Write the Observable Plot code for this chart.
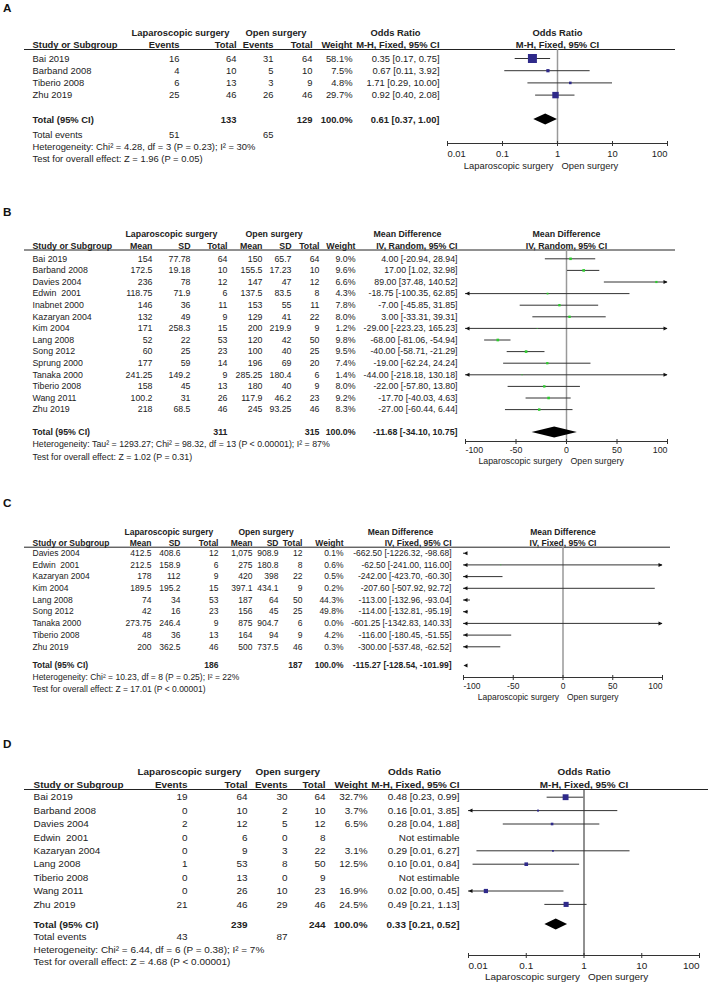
<!DOCTYPE html>
<html><head><meta charset="utf-8">
<script src="https://cdn.jsdelivr.net/npm/d3@7"></script>
<script src="https://cdn.jsdelivr.net/npm/@observablehq/plot@0.6"></script>
<style>
body{margin:0;background:#fff;}
#page{position:relative;width:709px;height:983px;overflow:hidden;font-family:"Liberation Sans",Arial,sans-serif;background:#fff;}
.lbl{position:absolute;left:3px;font-weight:bold;font-size:11.7px;line-height:12px;color:#111;}
svg text{white-space:pre;}
</style></head><body><div id="page"></div>
<script>
// ===== Panel A =====
const studiesA = ["Bai 2019","Barband 2008","Tiberio 2008","Zhu 2019"];
const lapEventsA = [16,4,6,25];
const lapTotalA = [64,10,13,46];
const openEventsA = [31,5,3,26];
const openTotalA = [64,10,9,46];
const weightA = [58.1,7.5,4.8,29.7];
const orA = [0.35,0.67,1.71,0.92];
const orLowA = [0.17,0.11,0.29,0.40];
const orHighA = [0.75,3.92,10.00,2.08];
const pooledA = [0.61,0.37,1.00];
const totalsA = [133,129];
const totalEventsA = [51,65];
const hetA = "Heterogeneity: Chi² = 4.28, df = 3 (P = 0.23); I² = 30%";
const testA = "Test for overall effect: Z = 1.96 (P = 0.05)";

// ===== Panel B =====
const studiesB = ["Bai 2019","Barband 2008","Davies 2004","Edwin  2001","Inabnet 2000","Kazaryan 2004","Kim 2004","Lang 2008","Song 2012","Sprung 2000","Tanaka 2000","Tiberio 2008","Wang 2011","Zhu 2019"];
const lapMeanB = [154,172.5,236,118.75,146,132,171,52,60,177,241.25,158,100.2,218];
const lapSdB = [77.78,19.18,78,71.9,36,49,258.3,22,25,59,149.2,45,31,68.5];
const lapNB = [64,10,12,6,11,9,15,53,23,14,9,13,26,46];
const openMeanB = [150,155.5,147,137.5,153,129,200,120,100,196,285.25,180,117.9,245];
const openSdB = [65.7,17.23,47,83.5,55,41,219.9,42,40,69,180.4,40,46.2,93.25];
const openNB = [64,10,12,8,11,22,9,50,25,20,6,9,23,46];
const weightB = [9.0,9.6,6.6,4.3,7.8,8.0,1.2,9.8,9.5,7.4,1.4,8.0,9.2,8.3];
const mdB = [4.00,17.00,89.00,-18.75,-7.00,3.00,-29.00,-68.00,-40.00,-19.00,-44.00,-22.00,-17.70,-27.00];
const mdLowB = [-20.94,1.02,37.48,-100.35,-45.85,-33.31,-223.23,-81.06,-58.71,-62.24,-218.18,-57.80,-40.03,-60.44];
const mdHighB = [28.94,32.98,140.52,62.85,31.85,39.31,165.23,-54.94,-21.29,24.24,130.18,13.80,4.63,6.44];
const pooledB = [-11.68,-34.10,10.75];
const totalsB = [311,315];
const hetB = "Heterogeneity: Tau² = 1293.27; Chi² = 98.32, df = 13 (P < 0.00001); I² = 87%";
const testB = "Test for overall effect: Z = 1.02 (P = 0.31)";

// ===== Panel C =====
const studiesC = ["Davies 2004","Edwin  2001","Kazaryan 2004","Kim 2004","Lang 2008","Song 2012","Tanaka 2000","Tiberio 2008","Zhu 2019"];
const lapMeanC = [412.5,212.5,178,189.5,74,42,273.75,48,200];
const lapSdC = [408.6,158.9,112,195.2,34,16,246.4,36,362.5];
const lapNC = [12,6,9,15,53,23,9,13,46];
const openMeanC = [1075,275,420,397.1,187,156,875,164,500];
const openSdC = [908.9,180.8,398,434.1,64,45,904.7,94,737.5];
const openNC = [12,8,22,9,50,25,6,9,46];
const weightC = [0.1,0.6,0.5,0.2,44.3,49.8,0.0,4.2,0.3];
const mdC = [-662.50,-62.50,-242.00,-207.60,-113.00,-114.00,-601.25,-116.00,-300.00];
const mdLowC = [-1226.32,-241.00,-423.70,-507.92,-132.96,-132.81,-1342.83,-180.45,-537.48];
const mdHighC = [-98.68,116.00,-60.30,92.72,-93.04,-95.19,140.33,-51.55,-62.52];
const pooledC = [-115.27,-128.54,-101.99];
const totalsC = [186,187];
const hetC = "Heterogeneity: Chi² = 10.23, df = 8 (P = 0.25); I² = 22%";
const testC = "Test for overall effect: Z = 17.01 (P < 0.00001)";

// ===== Panel D =====
const studiesD = ["Bai 2019","Barband 2008","Davies 2004","Edwin  2001","Kazaryan 2004","Lang 2008","Tiberio 2008","Wang 2011","Zhu 2019"];
const lapEventsD = [19,0,2,0,0,1,0,0,21];
const lapTotalD = [64,10,12,6,9,53,13,26,46];
const openEventsD = [30,2,5,0,3,8,0,10,29];
const openTotalD = [64,10,12,8,22,50,9,23,46];
const weightD = [32.7,3.7,6.5,null,3.1,12.5,null,16.9,24.5];
const orD = [0.48,0.16,0.28,null,0.29,0.10,null,0.02,0.49];
const orLowD = [0.23,0.007,0.04,null,0.014,0.012,null,0.001,0.21];
const orHighD = [0.99,3.85,1.88,null,6.27,0.84,null,0.45,1.13];
const pooledD = [0.33,0.21,0.52];
const totalsD = [239,244];
const totalEventsD = [43,87];
const hetD = "Heterogeneity: Chi² = 6.44, df = 6 (P = 0.38); I² = 7%";
const testD = "Test for overall effect: Z = 4.68 (P < 0.00001)";

// ===== Axes =====
const ticksOR = [0.01,0.1,1,10,100];
const tickLabelsOR = ["0.01","0.1","1","10","100"];
const ticksMD = [-100,-50,0,50,100];
const tickLabelsMD = ["-100","-50","0","50","100"];
const favourLabels = ["Laparoscopic surgery","Open surgery"];

// ===== helpers =====
const f2 = v => v.toFixed(2);
const fW = v => v == null ? "" : v.toFixed(1) + "%";
const effText = (e, lo, hi) => e == null ? "Not estimable" : `${f2(e)} [${f2(lo)}, ${f2(hi)}]`;
const num = d3.format(",");
const effects = (e, lo, hi) => e.map((v, i) => effText(v, lo[i], hi[i]));

const BLUE = "#2f2a8a", GREEN = "#2ecc2e";

const panels = [
  {
    label: "A",
    L: {top:0, height:200, y0:58, pitch:12.2, header1:32, header2:44, underline:49, ulLeft:24, ulRight:675,
        total:119, totalEvents:134, het:146, test:158, axis:143, tickLabel:153, fav:165, labelY:7.5,
        fontSize:9.4, nameX:32, colX:[179,236,273,312,352,439], group1:[131,245], effHeadX:395,
        xRange:[447,667], rMax:6.66, diamondHalf:5.5, nullStroke:"#999", nullWidth:1.5},
    studies: studiesA,
    columns: [lapEventsA, lapTotalA, openEventsA, openTotalA, weightA.map(fW), effects(orA, orLowA, orHighA)],
    colHeads: ["Events","Total","Events","Total","Weight","M-H, Fixed, 95% CI"],
    totalCells: ["", totalsA[0], "", totalsA[1], "100.0%", effText(...pooledA)],
    totalEventsCells: [totalEventsA[0], "", totalEventsA[1], "", "", ""],
    effectName: "Odds Ratio",
    est: orA, lo: orLowA, hi: orHighA, weight: weightA, pooled: pooledA,
    xType: "log", xDomain: [0.01,100], nullValue: 1, ticks: ticksOR, tickLabels: tickLabelsOR,
    color: BLUE, het: hetA, test: testA
  },
  {
    label: "B",
    L: {top:200, height:290, y0:258.3, pitch:11.6, header1:234, header2:246, underline:249.5, ulLeft:24, ulRight:675,
        total:432, het:444, test:456.5, axis:441, tickLabel:450, fav:461, labelY:212,
        fontSize:8.8, nameX:32, colX:[152,190,227,262,291,319,355,457], group1:[125,245], effHeadX:407,
        xRange:[465,667], rMax:4.8, diamondHalf:5.5, nullStroke:"#999", nullWidth:1.5},
    studies: studiesB,
    columns: [lapMeanB.map(num), lapSdB.map(num), lapNB, openMeanB.map(num), openSdB.map(num), openNB, weightB.map(fW), effects(mdB, mdLowB, mdHighB)],
    colHeads: ["Mean","SD","Total","Mean","SD","Total","Weight","IV, Random, 95% CI"],
    totalCells: ["", "", totalsB[0], "", "", totalsB[1], "100.0%", effText(...pooledB)],
    totalEventsCells: null,
    effectName: "Mean Difference",
    est: mdB, lo: mdLowB, hi: mdHighB, weight: weightB, pooled: pooledB,
    xType: "linear", xDomain: [-100,100], nullValue: 0, ticks: ticksMD, tickLabels: tickLabelsMD,
    color: GREEN, het: hetB, test: testB
  },
  {
    label: "C",
    L: {top:490, height:235, y0:552.7, pitch:11.7, header1:531.7, header2:542.7, underline:546.7, ulLeft:24, ulRight:670,
        total:665, het:677, test:688.6, axis:677, tickLabel:686, fav:697, labelY:502.5,
        fontSize:8.5, nameX:32, colX:[151,180,218,252,278,302,343,451], group1:[124,238], effHeadX:400,
        xRange:[463,662], rMax:6, diamondHalf:5.5, nullStroke:"#999", nullWidth:1.5},
    studies: studiesC,
    columns: [lapMeanC.map(num), lapSdC.map(num), lapNC, openMeanC.map(num), openSdC.map(num), openNC, weightC.map(fW), effects(mdC, mdLowC, mdHighC)],
    colHeads: ["Mean","SD","Total","Mean","SD","Total","Weight","IV, Fixed, 95% CI"],
    totalCells: ["", "", totalsC[0], "", "", totalsC[1], "100.0%", effText(...pooledC)],
    totalEventsCells: null,
    effectName: "Mean Difference",
    est: mdC, lo: mdLowC, hi: mdHighC, weight: weightC, pooled: pooledC,
    xType: "linear", xDomain: [-100,100], nullValue: 0, ticks: ticksMD, tickLabels: tickLabelsMD,
    color: GREEN, het: hetC, test: testC
  },
  {
    label: "D",
    L: {top:725, height:258, y0:796.7, pitch:13.4, header1:771, header2:784, underline:789, ulLeft:24, ulRight:708,
        total:924, totalEvents:936.7, het:949, test:961.7, axis:955, tickLabel:965, fav:976.7, labelY:744,
        fontSize:9.95, nameX:33, colX:[187,247,287,325,367,459], group1:[137,255], effHeadX:414,
        xRange:[468,699], rMax:5.8, diamondHalf:5.5, nullStroke:"#222", nullWidth:1},
    studies: studiesD,
    columns: [lapEventsD, lapTotalD, openEventsD, openTotalD, weightD.map(fW), effects(orD, orLowD, orHighD)],
    colHeads: ["Events","Total","Events","Total","Weight","M-H, Fixed, 95% CI"],
    totalCells: ["", totalsD[0], "", totalsD[1], "100.0%", effText(...pooledD)],
    totalEventsCells: [totalEventsD[0], "", totalEventsD[1], "", "", ""],
    effectName: "Odds Ratio",
    est: orD, lo: orLowD, hi: orHighD, weight: weightD, pooled: pooledD,
    xType: "log", xDomain: [0.01,100], nullValue: 1, ticks: ticksOR, tickLabels: tickLabelsOR,
    color: BLUE, het: hetD, test: testD
  }
];

const arrowLeft = {draw(ctx) { ctx.moveTo(0,0); ctx.lineTo(4,-2); ctx.lineTo(4,2); ctx.closePath(); }};
const arrowRight = {draw(ctx) { ctx.moveTo(0,0); ctx.lineTo(-4,-2); ctx.lineTo(-4,2); ctx.closePath(); }};

function build(P) {
  const L = P.L;
  const row = px => (px - L.y0) / L.pitch;
  const n = P.studies.length;
  const idx = d3.range(n);
  const fs = L.fontSize;
  const ink = "#222";
  const [xmin, xmax] = P.xDomain;
  const txt = (data, o) => Plot.text(data, {fontSize: fs, fill: ink, ...o});
  const fixed = (text, ypx, dx, anchor, bold) =>
    txt([text], {y: () => row(ypx), text: d => String(d), frameAnchor: "left", dx, textAnchor: anchor, fontWeight: bold ? "bold" : "normal"});
  const column = (vals, dx, anchor) =>
    txt(idx.filter(i => vals[i] !== "" && vals[i] != null), {y: i => i, text: i => String(vals[i]), frameAnchor: "left", dx, textAnchor: anchor});

  const marks = [];
  // headers
  marks.push(fixed(favourLabels[0], L.header1, L.group1[0], "start", true));
  marks.push(fixed(favourLabels[1], L.header1, L.group1[1], "start", true));
  marks.push(txt([P.effectName], {y: () => row(L.header1), text: d => d, frameAnchor: "left", dx: L.effHeadX, textAnchor: "middle", fontWeight: "bold"}));
  marks.push(fixed("Study or Subgroup", L.header2, L.nameX, "start", true));
  P.colHeads.forEach((h, c) => marks.push(fixed(h, L.header2, L.colX[c], "end", true)));
  marks.push(txt([P.effectName], {x: () => P.nullValue, y: () => row(L.header1), text: d => d, fontWeight: "bold", textAnchor: "middle"}));
  marks.push(txt([P.colHeads[P.colHeads.length - 1]], {x: () => P.nullValue, y: () => row(L.header2), text: d => d, fontWeight: "bold", textAnchor: "middle"}));
  // underline
  marks.push(Plot.ruleY([row(L.underline)], {y: d => d, insetLeft: L.ulLeft, insetRight: 709 - L.ulRight, stroke: "#222", strokeWidth: 1}));
  // study rows
  marks.push(column(P.studies, L.nameX, "start"));
  P.columns.forEach((vals, c) => marks.push(column(vals, L.colX[c], "end")));
  // total row
  marks.push(fixed("Total (95% CI)", L.total, L.nameX, "start", true));
  P.totalCells.forEach((v, c) => { if (v !== "") marks.push(fixed(v, L.total, L.colX[c], "end", true)); });
  if (P.totalEventsCells) {
    marks.push(fixed("Total events", L.totalEvents, L.nameX, "start", false));
    P.totalEventsCells.forEach((v, c) => { if (v !== "") marks.push(fixed(v, L.totalEvents, L.colX[c], "end", false)); });
  }
  marks.push(fixed(P.het, L.het, L.nameX, "start", false));
  marks.push(fixed(P.test, L.test, L.nameX, "start", false));

  // forest
  const fr = idx.filter(i => P.est[i] != null).map(i => ({i, est: P.est[i], lo: P.lo[i], hi: P.hi[i], w: P.weight[i]}));
  const [pe, plo, phi] = P.pooled;
  const totalRow = row(L.total);
  marks.push(Plot.ruleX([P.nullValue], {x: d => d, y1: () => row(L.underline), y2: () => row(L.axis), stroke: L.nullStroke, strokeWidth: L.nullWidth}));
  marks.push(Plot.ruleY(fr, {y: "i", x1: "lo", x2: "hi", stroke: "#333", strokeWidth: 1}));
  marks.push(Plot.dot(fr.filter(d => d.est >= xmin && d.est <= xmax), {x: "est", y: "i", r: "w", symbol: "square", fill: P.color, stroke: "none"}));
  const leftA = fr.filter(d => d.lo < xmin).map(d => d.i);
  const rightA = fr.filter(d => d.hi > xmax).map(d => d.i);
  if (plo >= xmin && phi <= xmax) {
    const h = L.diamondHalf / L.pitch;
    marks.push(Plot.areaX([
      {y: totalRow - h, x1: pe, x2: pe},
      {y: totalRow, x1: plo, x2: phi},
      {y: totalRow + h, x1: pe, x2: pe}
    ], {y: "y", x1: "x1", x2: "x2", fill: "#000"}));
  } else {
    if (plo < xmin) leftA.push(totalRow);
    if (phi > xmax) rightA.push(totalRow);
  }
  marks.push(Plot.dot(leftA, {x: () => xmin, y: d => d, symbol: arrowLeft, r: 2, fill: "#111", stroke: "none"}));
  marks.push(Plot.dot(rightA, {x: () => xmax, y: d => d, symbol: arrowRight, r: 2, fill: "#111", stroke: "none"}));
  // axis
  const ax = row(L.axis);
  marks.push(Plot.ruleY([ax], {y: d => d, x1: () => xmin, x2: () => xmax, stroke: "#333", strokeWidth: 1}));
  marks.push(Plot.ruleX(P.ticks, {x: d => d, y1: () => ax, y2: () => ax, insetTop: -2, insetBottom: -3, stroke: "#333", strokeWidth: 1}));
  const tdy = L.tickLabel - L.axis;
  const nt = P.ticks.length;
  marks.push(txt([P.ticks[0]], {x: d => d, y: () => ax, dy: tdy, text: () => P.tickLabels[0], textAnchor: "start"}));
  marks.push(txt(P.ticks.slice(1, -1), {x: d => d, y: () => ax, dy: tdy, text: (d, i) => P.tickLabels[i + 1], textAnchor: "middle"}));
  marks.push(txt([P.ticks[nt - 1]], {x: d => d, y: () => ax, dy: tdy, text: () => P.tickLabels[nt - 1], textAnchor: "end"}));
  const fdy = L.fav - L.axis;
  marks.push(txt([favourLabels[0]], {x: () => P.nullValue, y: () => ax, dy: fdy, dx: -4, text: d => d, textAnchor: "end"}));
  marks.push(txt([favourLabels[1]], {x: () => P.nullValue, y: () => ax, dy: fdy, dx: 4, text: d => d, textAnchor: "start"}));

  const svg = Plot.plot({
    width: 709, height: L.height,
    marginLeft: 0, marginRight: 0, marginTop: 0, marginBottom: 0,
    x: {type: P.xType, domain: P.xDomain, range: L.xRange, clamp: true, axis: null},
    y: {type: "linear", domain: [0, 1], range: [L.y0 - L.top, L.y0 - L.top + L.pitch], axis: null},
    r: {type: "sqrt", domain: [0, 100], range: [0, L.rMax]},
    style: {fontFamily: '"Liberation Sans", Arial, sans-serif', background: "transparent", overflow: "visible"},
    marks
  });
  svg.style.position = "absolute";
  svg.style.left = "0px";
  svg.style.top = L.top + "px";
  return svg;
}

const page = document.getElementById("page");
for (const P of panels) {
  page.appendChild(build(P));
  const lab = document.createElement("div");
  lab.className = "lbl";
  lab.textContent = P.label;
  lab.style.top = (P.L.labelY - 5.9) + "px";
  page.appendChild(lab);
}
</script>
</body></html>
